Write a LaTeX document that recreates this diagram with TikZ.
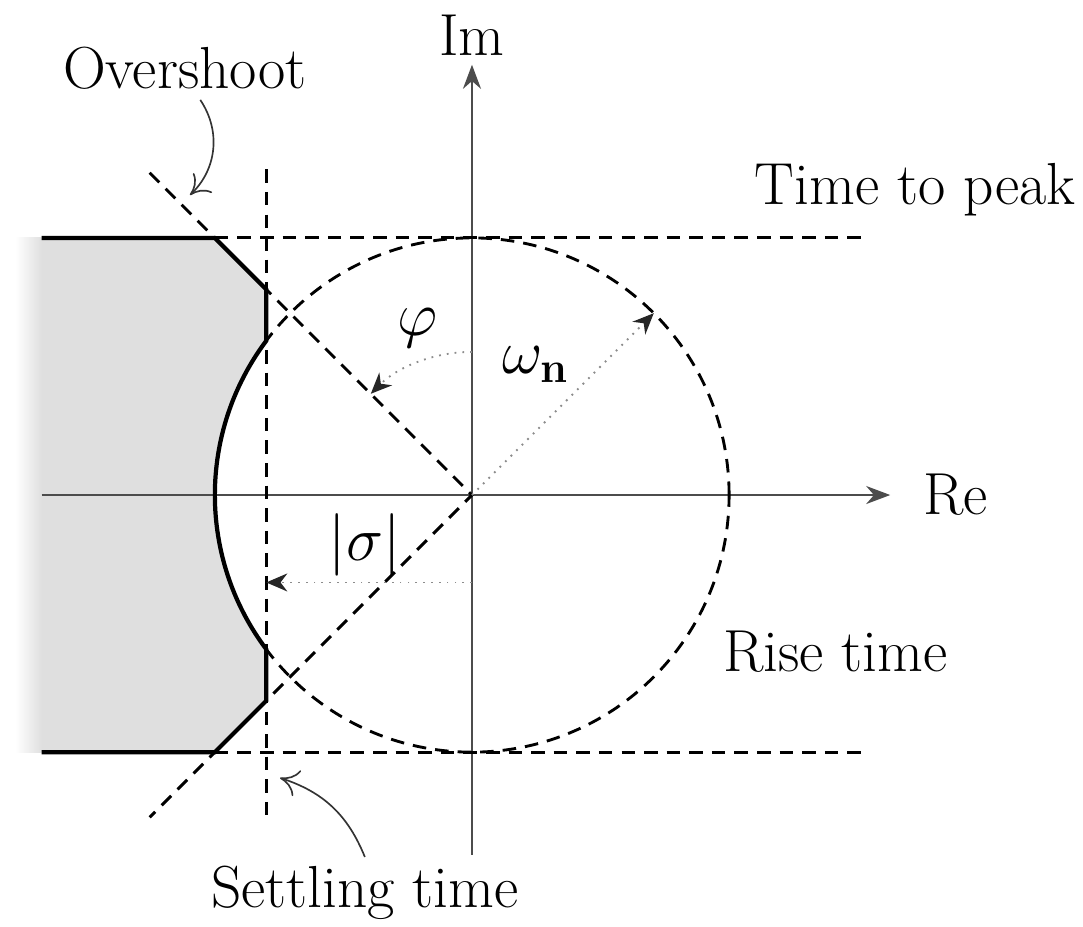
\documentclass[tikz,border=0pt]{standalone}
\usepackage{amsmath}
\usepackage{amssymb}
\usetikzlibrary{arrows.meta}

\begin{document}
\begin{tikzpicture}[
        font=\fontsize{19.7}{24}\selectfont,
        axis/.style={black!70, line width=0.6pt, -{Stealth[length=8pt,width=6pt]}},
        guide/.style={dash pattern=on 4.5pt off 3pt, line width=0.95pt},
        bound/.style={line width=1.4pt},
        measure/.style={dotted, black!45, line width=0.6pt, -{Stealth[length=7pt,width=6pt,black!85]}},
        note/.style={black!80, line width=0.55pt, -{To[length=6pt,width=9pt]}}]
            \useasboundingbox (-5.507,-5.029) rectangle (7.129,5.776);
            % allowed region
            \fill[gray!25] (-5.02,3) -- (-3,3) -- (-2.4,2.4) -- (-2.4,1.8)
                arc[start angle=143.13, end angle=216.87, radius=3]
                -- (-2.4,-2.4) -- (-3,-3) -- (-5.02,-3) -- cycle;
            \shade[left color=white, right color=gray!25] (-5.33,-3) rectangle (-5.02,3);
            % axes
            \coordinate (o) at (0,0);
            \coordinate (xs) at (-5.02,0);
            \coordinate (xe) at (4.88,0);
            \coordinate (ys) at (0,-4.2);
            \coordinate (ye) at (0,5.02);
            \node (re) at (5.64,0) {Re};
            \node (im) at (0,5.37) {Im};
            \draw[axis] (xs) -- (xe);
            \draw[axis] (ys) -- (ye);
            % limits
            \coordinate (tl) at (-3,3);
            \coordinate (tr) at (4.62,3);
            \coordinate (bl) at (-3,-3);
            \coordinate (br) at (4.62,-3);
            \coordinate (st) at (-2.4,3.8);
            \coordinate (sb) at (-2.4,-3.8);
            \coordinate (dt) at (-3.76,3.76);
            \coordinate (db) at (-3.76,-3.76);
            \draw[guide] (tl) -- (tr);
            \draw[guide] (bl) -- (br);
            \draw[guide] (st) -- (sb);
            \draw[guide] (dt) -- (o) -- (db);
            \draw[guide] (o) circle[radius=3];
            \draw[bound] (-5.02,3) -- (tl) -- (-2.4,2.4) -- (-2.4,1.8)
                arc[start angle=143.13, end angle=216.87, radius=3]
                -- (-2.4,-2.4) -- (bl) -- (-5.02,-3);
            % measures
            \coordinate (wn) at (45:3);
            \coordinate (s1) at (0,-1.02);
            \coordinate (s2) at (-2.4,-1.02);
            \draw[measure] (o) -- (wn);
            \draw[measure] (s1) -- (s2);
            \draw[measure] (0,1.67) arc[start angle=90, end angle=135, radius=1.67];
            \node (phi) at (-0.63,1.95) {$\varphi$};
            \node (omega) at (0.74,1.52) {$\omega_{\mathbf{n}}$};
            \node (sigma) at (-1.25,-0.58) {$|\sigma|$};
            % labels
            \node (peak) at (5.17,3.56) {Time to peak};
            \node (rise) at (4.24,-1.83) {Rise time};
            \node (over) at (-3.35,4.98) {Overshoot};
            \node (settle) at (-1.25,-4.64) {Settling time};
            \coordinate (oa) at (-3.29,3.5);
            \coordinate (sa) at (-2.24,-3.3);
            \draw[note] (-3.17,4.61) to[bend left=40] (oa);
            \draw[note] (settle.north) ++(0,-0.02) to[bend right=25] (sa);
        \end{tikzpicture}
\end{document}
